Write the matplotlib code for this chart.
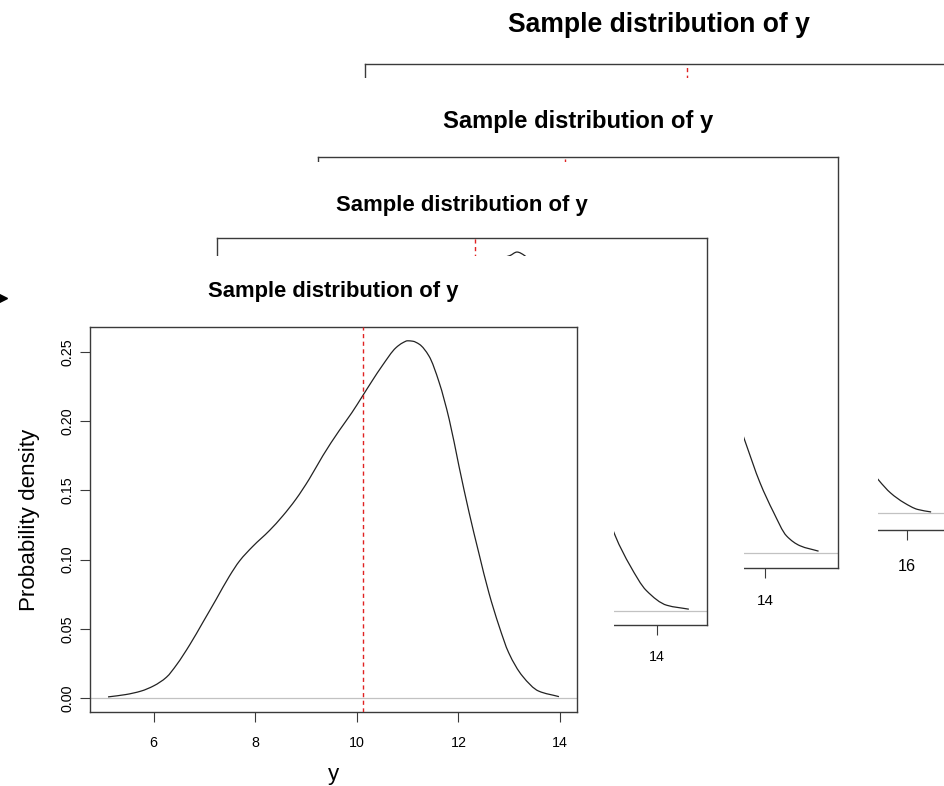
import matplotlib
matplotlib.use("Agg")
import matplotlib.pyplot as plt
from matplotlib.patches import Rectangle, PathPatch
from matplotlib.path import Path
from matplotlib.lines import Line2D

plt.rcParams["font.family"] = ["Liberation Sans", "DejaVu Sans"]

TITLE = "Sample distribution of y"
X_LABEL = "y"
Y_LABEL = "Probability density"
density_ticks = [0.00, 0.05, 0.10, 0.15, 0.20, 0.25]

# Sample 1 (front sheet): kernel density estimate of y
s1_grid = [5.10, 5.45, 5.75, 6.00, 6.25, 6.45, 6.71, 6.97, 7.23, 7.49, 7.69, 7.95,
           8.28, 8.54, 8.80, 9.06, 9.33, 9.65, 9.90, 10.11, 10.30, 10.50, 10.77,
           10.90, 11.00, 11.10, 11.23, 11.42, 11.62, 11.82, 12.01, 12.21, 12.40,
           12.60, 12.80, 12.99, 13.26, 13.58, 13.98]
s1_density = [0.0008, 0.0025, 0.0050, 0.0088, 0.0150, 0.0240, 0.0385, 0.0548, 0.0713,
              0.0880, 0.0990, 0.1095, 0.1210, 0.1315, 0.1436, 0.1580, 0.1750, 0.1930,
              0.2060, 0.2180, 0.2290, 0.2400, 0.2530, 0.2565, 0.2580, 0.2577, 0.2555,
              0.2470, 0.2280, 0.2010, 0.1676, 0.1340, 0.1050, 0.0760, 0.0520, 0.0327,
              0.0159, 0.0050, 0.0010]
s1_mean = 10.12
s1_xticks = [6, 8, 10, 12, 14]

# Sample 2
s2_grid = [5.76, 6.20, 6.60, 7.00, 7.40, 7.80, 8.20, 8.60, 9.00, 9.40, 9.80, 10.20,
           10.60, 10.90, 11.13, 11.27, 11.42, 11.70, 12.00, 12.30, 12.60, 12.90,
           13.19, 13.48, 13.80, 14.20, 14.63]
s2_density = [0.0009, 0.0052, 0.0138, 0.0293, 0.0500, 0.0725, 0.0914, 0.1070, 0.1225,
              0.1398, 0.1613, 0.1838, 0.2045, 0.2157, 0.2178, 0.2200, 0.2178, 0.2027,
              0.1725, 0.1380, 0.1052, 0.0733, 0.0460, 0.0277, 0.0123, 0.0033, 0.0009]
s2_mean = 10.45
s2_xticks = [6, 8, 10, 12, 14]

# Sample 3
s3_grid = [6.12, 6.50, 7.00, 7.50, 8.00, 8.50, 9.00, 9.50, 10.00, 10.50, 10.90, 11.30,
           11.80, 12.30, 12.80, 13.20, 13.63, 13.90, 14.15, 14.39, 14.64, 14.98]
s3_density = [0.0009, 0.0055, 0.0202, 0.0458, 0.0779, 0.1082, 0.1375, 0.1696, 0.1971,
              0.2163, 0.2200, 0.2173, 0.2017, 0.1742, 0.1375, 0.1027, 0.0642, 0.0407,
              0.0236, 0.0099, 0.0042, 0.0011]
s3_mean = 10.31
s3_xticks = [6, 8, 10, 12, 14]

# Sample 4 (back sheet)
s4_grid = [7.54, 8.00, 8.50, 9.00, 9.50, 10.00, 10.50, 11.00, 11.50, 12.00, 12.50,
           12.90, 13.30, 13.70, 14.10, 14.50, 14.90, 15.25, 15.55, 15.74, 15.96,
           16.18, 16.40]
s4_density = [0.0009, 0.0053, 0.0176, 0.0396, 0.0660, 0.0924, 0.1144, 0.1408, 0.1716,
              0.1980, 0.2156, 0.2200, 0.2112, 0.1760, 0.1276, 0.0836, 0.0502, 0.0290,
              0.0165, 0.0101, 0.0051, 0.0017, 0.0004]
s4_mean = 12.43
s4_xticks = [8, 10, 12, 14, 16]

W, H, DPI = 945, 786, 100
fig = plt.figure(figsize=(W / DPI, H / DPI), dpi=DPI)
fig.patch.set_facecolor("white")


def fig_rect(left, top, right, bottom):
    """Pixel box (origin top-left) -> figure fraction [x, y, w, h]."""
    return [left / W, 1 - bottom / H, (right - left) / W, (bottom - top) / H]


def r_range(values):
    lo, hi = min(values), max(values)
    pad = 0.04 * (hi - lo)
    return lo - pad, hi + pad


def density_path(x, y):
    """Piecewise monotone cubic (Fritsch-Carlson) through the points, as a Bezier path."""
    n = len(x)
    h = [x[i + 1] - x[i] for i in range(n - 1)]
    d = [(y[i + 1] - y[i]) / h[i] for i in range(n - 1)]
    m = [0.0] * n
    m[0], m[-1] = d[0], d[-1]
    for i in range(1, n - 1):
        if d[i - 1] * d[i] <= 0:
            m[i] = 0.0
        else:
            w1 = 2 * h[i] + h[i - 1]
            w2 = h[i] + 2 * h[i - 1]
            m[i] = (w1 + w2) / (w1 / d[i - 1] + w2 / d[i])
    verts = [(x[0], y[0])]
    codes = [Path.MOVETO]
    for i in range(n - 1):
        verts += [(x[i] + h[i] / 3, y[i] + m[i] * h[i] / 3),
                  (x[i + 1] - h[i] / 3, y[i + 1] - m[i + 1] * h[i] / 3),
                  (x[i + 1], y[i + 1])]
        codes += [Path.CURVE4] * 3
    return Path(verts, codes)


# Sheets listed from the back of the stack to the front.
sheets = [
    dict(grid=s4_grid, dens=s4_density, mean=s4_mean, xticks=s4_xticks,
         box=(365, 64.3, 952.9, 530), paper=(285, -20, 990, 620), scale=1.207,
         title_size=19.1, title_pad=23.5, tick_size=11.6, tick_pad=13.6),
    dict(grid=s3_grid, dens=s3_density, mean=s3_mean, xticks=s3_xticks,
         box=(318.5, 157, 837.8, 568.3), paper=(240, 78, 878, 650), scale=1.065,
         title_size=17.1, title_pad=21.2, tick_size=11.0, tick_pad=11.5),
    dict(grid=s2_grid, dens=s2_density, mean=s2_mean, xticks=s2_xticks,
         box=(217, 237.7, 707, 625), paper=(140, 162, 743.5, 715), scale=1.005,
         title_size=15.9, title_pad=18.9, tick_size=10.3, tick_pad=10.6),
    dict(grid=s1_grid, dens=s1_density, mean=s1_mean, xticks=s1_xticks,
         box=(90, 326.5, 577, 712.3), paper=(-5, 255.5, 614, 800), scale=1.0,
         title_size=15.8, title_pad=21.2, tick_size=10.3, tick_pad=10.2),
]

frame_col = "#3a3a3a"
for i, sh in enumerate(sheets):
    z = 2 * i + 1
    pl, pt, pr, pb = sh["paper"]
    fig.add_artist(Rectangle((pl / W, 1 - pb / H), (pr - pl) / W, (pb - pt) / H,
                             transform=fig.transFigure, facecolor="white",
                             edgecolor="none", zorder=z))
    bl, bt, br, bb = sh["box"]
    s = sh["scale"]
    ax = fig.add_axes(fig_rect(bl, bt, br, bb))
    ax.set_zorder(z + 0.5)
    ax.set_facecolor("white")

    ax.axhline(0, color="#c2c2c2", lw=0.9, zorder=1)
    ax.add_patch(PathPatch(density_path(sh["grid"], sh["dens"]), fill=False,
                           edgecolor="#222222", lw=0.9, zorder=2))
    ax.axvline(sh["mean"], color="#e02222", lw=1.0, ls=(0, (3, 2.5)), zorder=3)

    ylo, yhi = r_range([0.0] + list(sh["dens"]))
    yt = [v for v in density_ticks if v <= yhi]
    ax.set_xticks(sh["xticks"], labels=[str(v) for v in sh["xticks"]])
    ax.set_yticks(yt, labels=[f"{v:.2f}" for v in yt])
    ax.set_xlim(r_range(sh["grid"]))
    ax.set_ylim(ylo, yhi)

    for sp in ax.spines.values():
        sp.set_color(frame_col)
        sp.set_linewidth(1.0)
    ax.tick_params(direction="out", length=7.2, width=0.8, color=frame_col,
                   labelsize=sh["tick_size"], labelcolor="black")
    ax.tick_params(axis="x", pad=sh["tick_pad"])
    ax.tick_params(axis="y", labelrotation=90, pad=3.6 * s)
    for lab in ax.get_yticklabels():
        lab.set_va("center")

    ax.set_title(TITLE, fontsize=sh["title_size"], fontweight="bold",
                 pad=sh["title_pad"], color="black")

    bw, bh = br - bl, bb - bt
    ax.set_xlabel(X_LABEL, fontsize=16.1 * s)
    ax.xaxis.set_label_coords(0.5, -67.7 * s / bh)
    ax.xaxis.label.set_va("baseline")
    ax.set_ylabel(Y_LABEL, fontsize=16.1 * s)
    ax.yaxis.set_label_coords(-55 * s / bw, 0.5)
    ax.yaxis.label.set_va("baseline")

# bullet marker at the left edge
fig.add_artist(Line2D([0.0], [1 - 298 / H], transform=fig.transFigure,
                      marker=">", markersize=10, color="black", linestyle="none",
                      zorder=100))

fig.savefig("out.png", dpi=DPI, facecolor="white")
